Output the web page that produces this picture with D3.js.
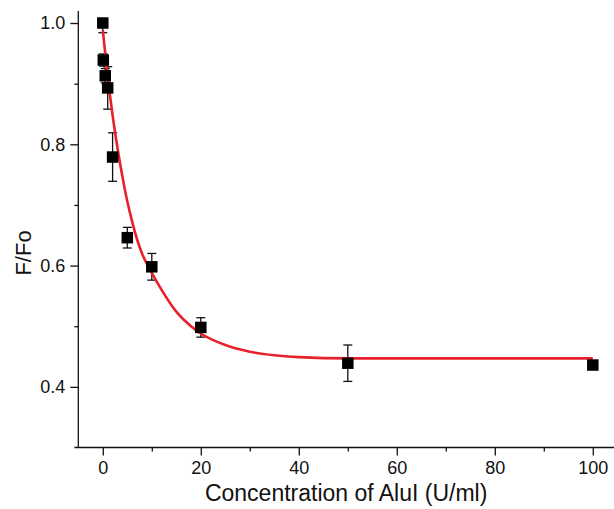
<!DOCTYPE html>
<html>
<head>
<meta charset="utf-8">
<script src="https://cdn.jsdelivr.net/npm/d3@7"></script>
<style>
  html, body { margin: 0; padding: 0; background: #fff; }
  svg { display: block; }
  text { font-family: "Liberation Sans", Arial, sans-serif; fill: #111; }
</style>
</head>
<body>
<svg id="chart" width="614" height="509"></svg>
<script>
// ---- data ----
const concentrations = [0, 0.1, 0.5, 1, 2, 5, 10, 20, 50, 100];
const ratioValues    = [1.0, 0.939, 0.913, 0.893, 0.779, 0.646, 0.598, 0.498, 0.439, 0.436];
const errUp          = [0.0, 0.010, 0.012, 0.035, 0.040, 0.017, 0.022, 0.016, 0.030, 0.0];
const errDown        = [0.016, 0.010, 0.012, 0.035, 0.040, 0.017, 0.022, 0.016, 0.030, 0.0];

const fitX = [0, 1, 2, 3, 4, 5, 6, 7, 8, 10, 12, 15, 18, 20, 25, 30, 35, 40, 50, 60, 80, 100];
const fitY = [0.988, 0.912, 0.848, 0.794, 0.747, 0.706, 0.672, 0.643, 0.620, 0.588, 0.560, 0.524, 0.500, 0.488, 0.469, 0.458, 0.452, 0.449, 0.447, 0.447, 0.447, 0.447];

const xTicks = [0, 20, 40, 60, 80, 100];
const xMinorTicks = [10, 30, 50, 70, 90];
const yTicks = [0.4, 0.6, 0.8, 1.0];
const yMinorTicks = [0.5, 0.7, 0.9];

const xTitle = "Concentration of AluI (U/ml)";
const yTitle = "F/Fo";

// ---- layout ----
const svg = d3.select("#chart");
const x0px = 102.8, pxPerUnit = 4.9;
const x = d3.scaleLinear().domain([-5, 105]).range([x0px - 5 * pxPerUnit, x0px + 105 * pxPerUnit]);
const y = d3.scaleLinear().domain([0.3, 1.02]).range([447.5, 10.9]);
const left = x(-5), bottom = y(0.3);

// axes
const xAxis = d3.axisBottom(x).tickValues(xTicks).tickFormat(d3.format("d")).tickSize(8).tickPadding(6);
const xMinor = d3.axisBottom(x).tickValues(xMinorTicks).tickFormat("").tickSize(4);
const yAxis = d3.axisLeft(y).tickValues(yTicks).tickFormat(d3.format(".1f")).tickSize(8).tickPadding(5);
const yMinor = d3.axisLeft(y).tickValues(yMinorTicks).tickFormat("").tickSize(4);

function style(g) {
  g.select(".domain").attr("stroke", "#111").attr("stroke-width", 1.3);
  g.selectAll(".tick line").attr("stroke", "#111").attr("stroke-width", 1.3);
  g.selectAll(".tick text").style("font-size", "18px").style("font-family", "'Liberation Sans', Arial, sans-serif").attr("fill", "#111");
}

svg.append("g").attr("transform", `translate(0,${bottom})`).call(xMinor).call(style).select(".domain").remove();
svg.append("g").attr("transform", `translate(0,${bottom})`).call(xAxis).call(style)
  .select(".domain").attr("d", `M${left - 4},0H${x(105)}`);
svg.append("g").attr("transform", `translate(${left},0)`).call(yMinor).call(style).select(".domain").remove();
svg.append("g").attr("transform", `translate(${left},0)`).call(yAxis).call(style)
  .select(".domain").attr("d", `M0,${y(1.02)}V${bottom}`);

// axis titles
svg.append("text")
  .attr("x", (left + 614) / 2).attr("y", 501)
  .attr("text-anchor", "middle")
  .style("font-size", "23px")
  .text(xTitle);
svg.append("text")
  .attr("transform", `translate(31,253) rotate(-90)`)
  .attr("text-anchor", "middle")
  .style("font-size", "22px")
  .text(yTitle);

// error bars
const pts = concentrations.map((c, i) => ({c, v: ratioValues[i], up: errUp[i], dn: errDown[i]}));
const eb = svg.append("g").attr("stroke", "#111").attr("stroke-width", 1.3).attr("fill", "none");
const capW = 4.5;
pts.forEach(p => {
  if (p.up === 0 && p.dn === 0) return;
  const cx = x(p.c);
  const y1 = y(p.v + p.up), y2 = y(p.v - p.dn);
  eb.append("line").attr("x1", cx).attr("x2", cx).attr("y1", y1).attr("y2", y2);
  if (p.up > 0) eb.append("line").attr("x1", cx - capW).attr("x2", cx + capW).attr("y1", y1).attr("y2", y1);
  if (p.dn > 0) eb.append("line").attr("x1", cx - capW).attr("x2", cx + capW).attr("y1", y2).attr("y2", y2);
});

// fit curve
const fitData = fitX.map((v, i) => [v, fitY[i]]);
svg.append("path")
  .datum(fitData)
  .attr("fill", "none")
  .attr("stroke", "#e8202a")
  .attr("stroke-width", 2.6)
  .attr("d", d3.line().x(d => x(d[0])).y(d => y(d[1])).curve(d3.curveMonotoneX));

// squares
const sz = 11.5;
svg.append("g").selectAll("rect").data(pts).join("rect")
  .attr("x", d => x(d.c) - sz / 2)
  .attr("y", d => y(d.v) - sz / 2)
  .attr("width", sz).attr("height", sz)
  .attr("fill", "#000");
</script>
</body>
</html>
